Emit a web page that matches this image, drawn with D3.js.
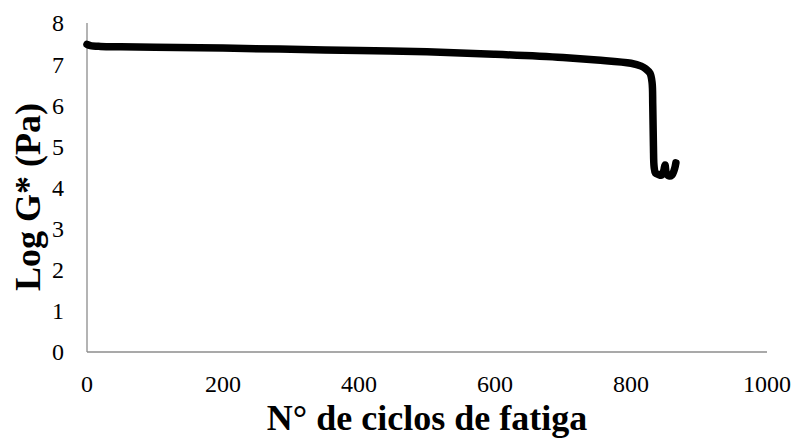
<!DOCTYPE html>
<html><head><meta charset="utf-8">
<script src="https://cdn.jsdelivr.net/npm/d3@7"></script>
<style>body{margin:0;background:#fff}</style>
</head><body><svg id="c" width="796" height="438"></svg>
<script>
const cycles = [0,5,20,50,100,200,300,400,500,600,700,750,800,815,822,828,831,832,833,834,836,840,845,848,850,852,856,860,864,866];
const logG  = [7.48,7.45,7.43,7.42,7.41,7.39,7.36,7.33,7.30,7.24,7.16,7.10,7.02,6.95,6.88,6.78,6.55,6.0,5.0,4.5,4.35,4.32,4.30,4.40,4.55,4.35,4.28,4.30,4.45,4.60];
const xTicks = [0,200,400,600,800,1000];
const yTicks = [0,1,2,3,4,5,6,7,8];

const svg = d3.select("#c");
const x = d3.scaleLinear().domain([0,1000]).range([87,767]);
const y = d3.scaleLinear().domain([0,8]).range([352,23]);
const font = "'Liberation Serif','Times New Roman',serif";

svg.append("line").attr("x1",x(0)).attr("x2",x(0)).attr("y1",y(0)).attr("y2",y(8)).attr("stroke","#8c8c8c").attr("stroke-width",1.3);
svg.append("line").attr("x1",x(0)).attr("x2",x(1000)).attr("y1",y(0)).attr("y2",y(0)).attr("stroke","#8c8c8c").attr("stroke-width",1.3);

svg.append("g").selectAll("text").data(yTicks).join("text")
  .attr("x",64).attr("y",d=>y(d)).attr("dy","0.35em").attr("text-anchor","end")
  .attr("font-family",font).attr("font-size",24).text(d=>d);
svg.append("g").selectAll("text").data(xTicks).join("text")
  .attr("x",d=>x(d)).attr("y",392).attr("text-anchor","middle")
  .attr("font-family",font).attr("font-size",24).text(d=>d);

svg.append("path").datum(logG).attr("d",d3.line().x((d,i)=>x(cycles[i])).y(d=>y(d)).curve(d3.curveCatmullRom.alpha(0.5)))
  .attr("fill","none").attr("stroke","#000").attr("stroke-width",7.5).attr("stroke-linejoin","round").attr("stroke-linecap","round");

svg.append("text").attr("x",427).attr("y",430).attr("text-anchor","middle")
  .attr("font-family",font).attr("font-size",36).attr("font-weight","bold").text("N° de ciclos de fatiga");
svg.append("text").attr("transform","translate(40,197) rotate(-90)").attr("text-anchor","middle")
  .attr("font-family",font).attr("font-size",36).attr("font-weight","bold").text("Log G* (Pa)");
</script></body></html>
